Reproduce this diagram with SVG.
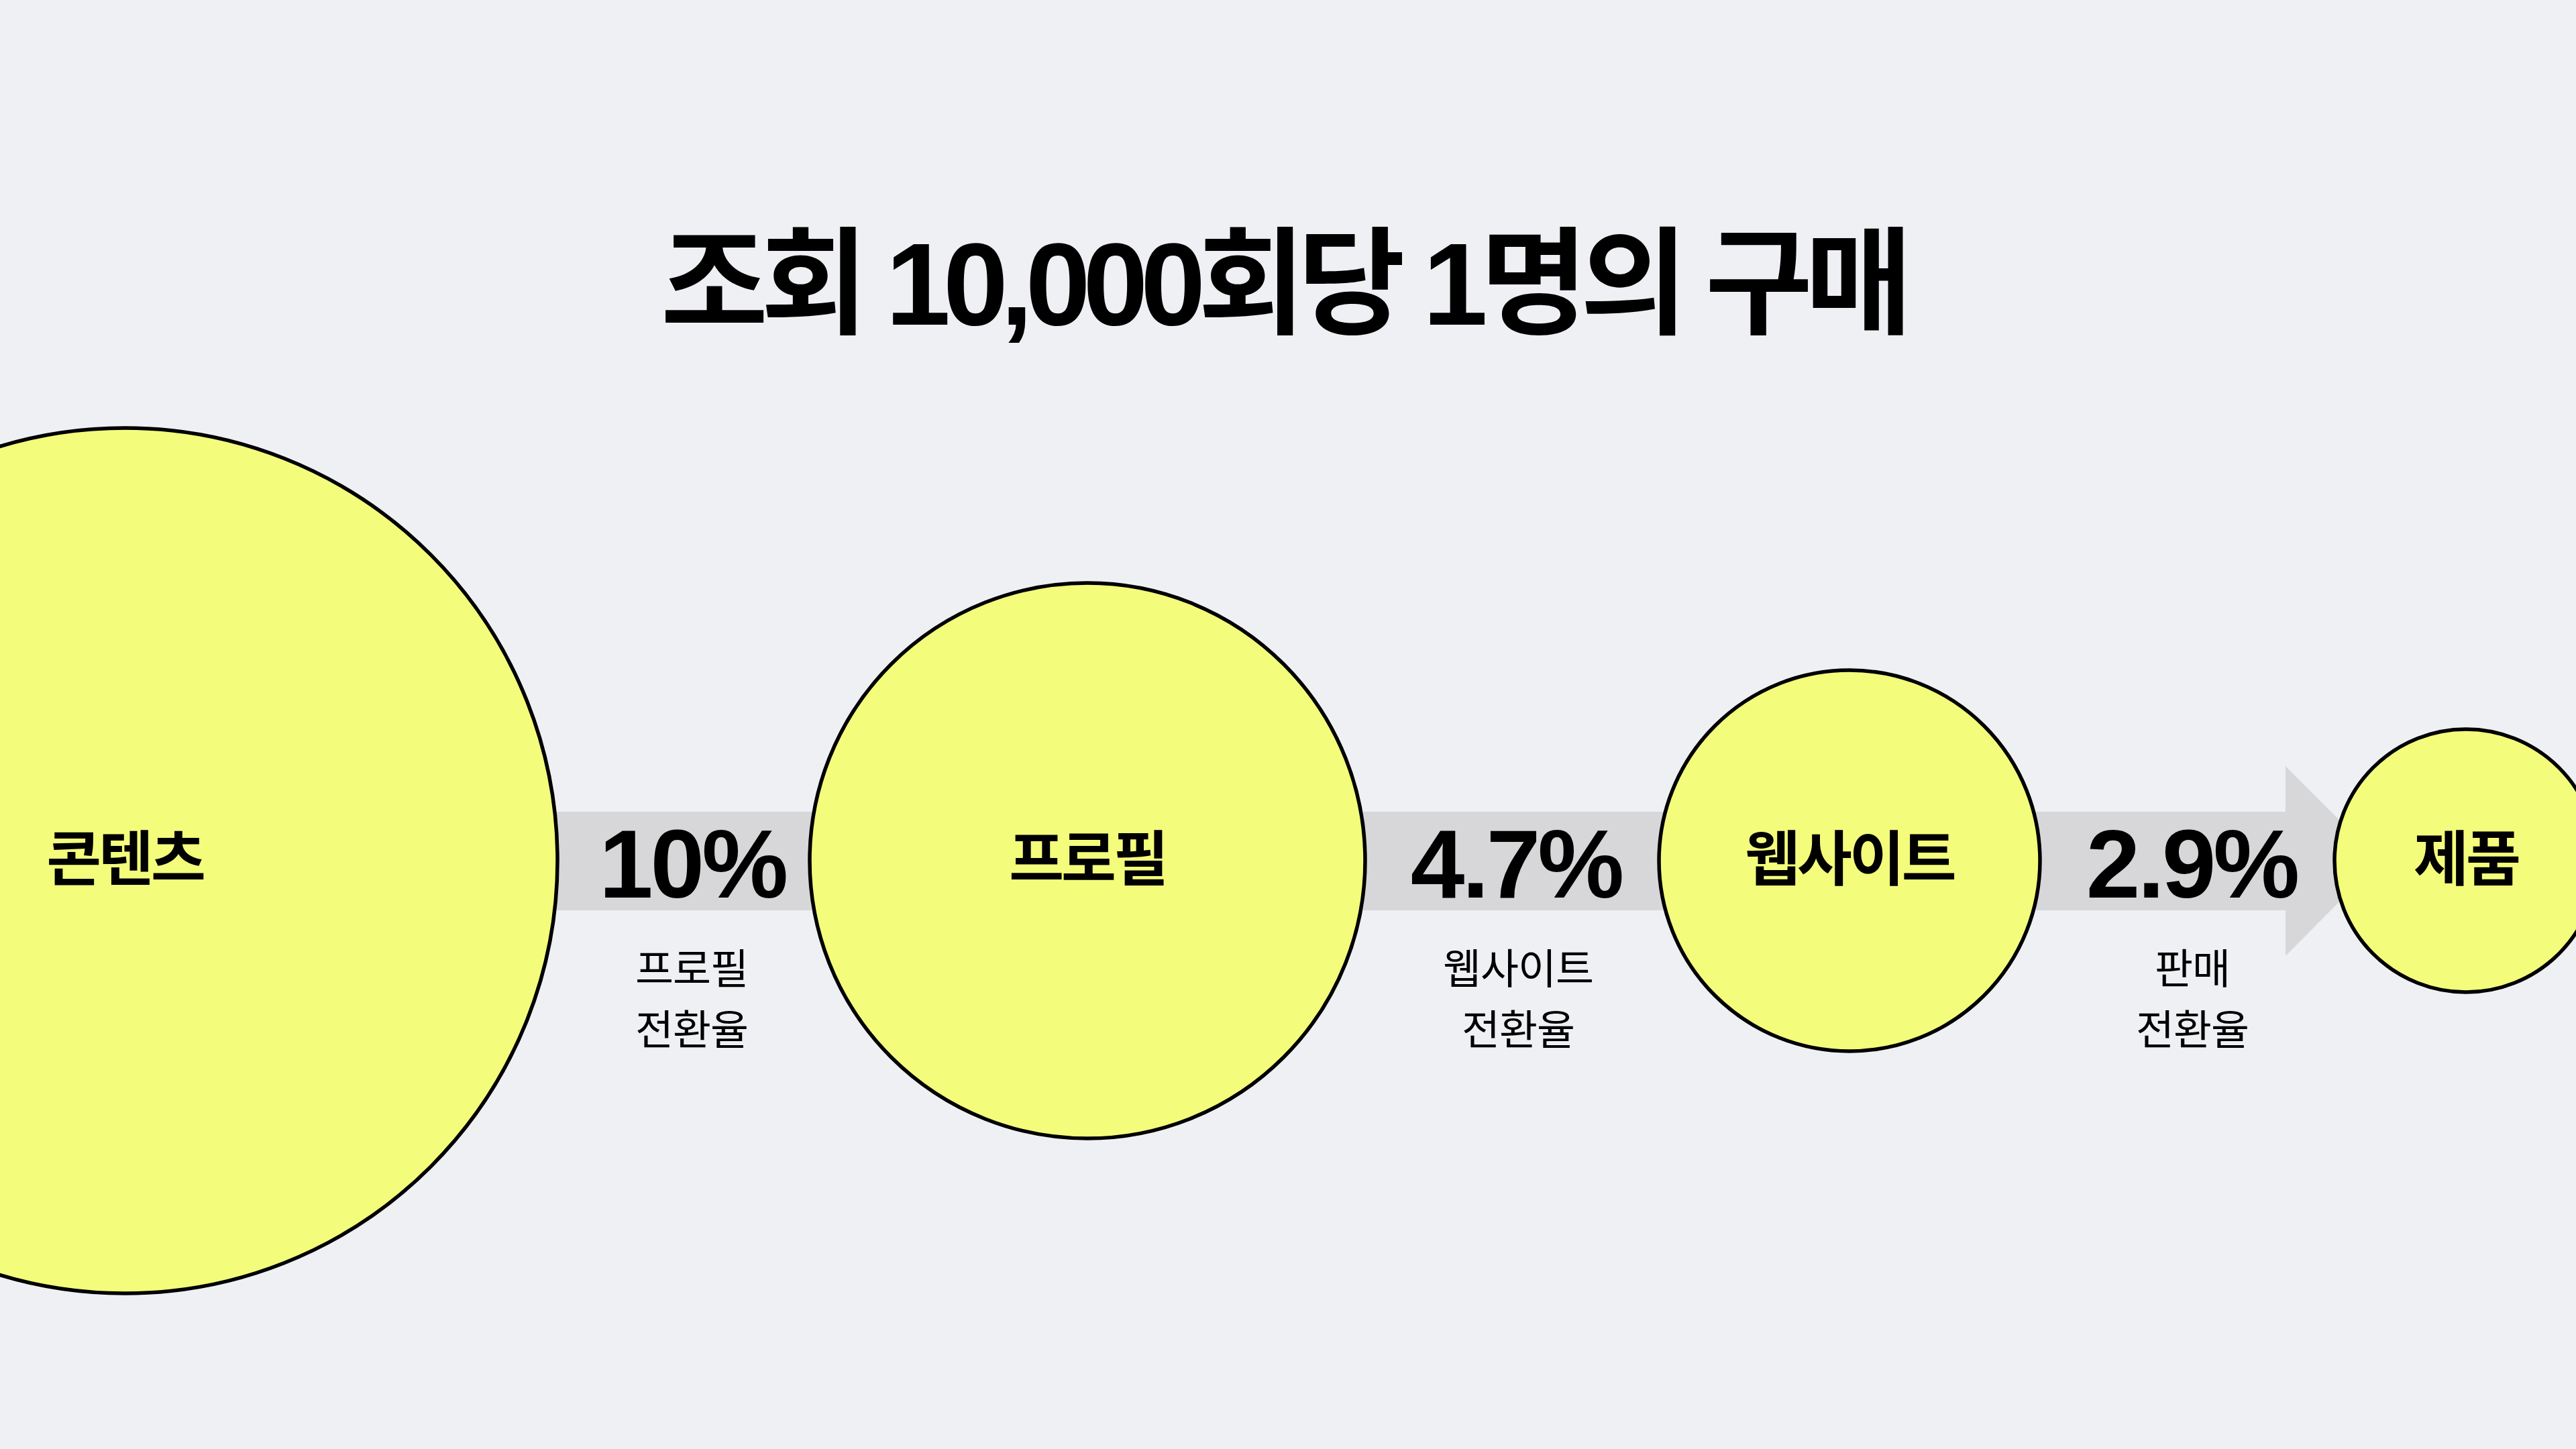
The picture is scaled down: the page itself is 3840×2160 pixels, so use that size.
<svg xmlns="http://www.w3.org/2000/svg" width="3840" height="2160" viewBox="0 0 3840 2160">
<style>
.bg{fill:#EFF0F4}
.node{fill:#F4FC7C;stroke:#000;stroke-width:5.5}
.band{fill:#D7D7DA}
.title{font-family:"Liberation Sans","Noto Sans CJK KR",sans-serif;font-weight:700;font-size:174px;fill:#000}
.lbl{font-family:"Noto Sans CJK KR",sans-serif;font-weight:700;font-size:89px;fill:#000;text-anchor:middle;letter-spacing:-4px}
.pct{font-family:"Liberation Sans","Noto Sans CJK KR",sans-serif;font-weight:700;font-size:145px;fill:#000;text-anchor:middle;letter-spacing:-4px}
.sub{font-family:"Noto Sans CJK KR",sans-serif;font-weight:400;font-size:62px;fill:#000;text-anchor:middle;letter-spacing:-1px}
</style>
<rect class="bg" x="0" y="0" width="3840" height="2160"/>
<text class="title" x="985" y="484" textLength="1866" lengthAdjust="spacing">조회 10,000회당 1명의 구매</text>
<g id="connectors">
<path class="band" d="M186 1210 H3407 V1142 L3548 1283 L3407 1425 V1357 H186 Z"/>
</g>
<g id="rate1">
<text class="pct" x="1032" y="1338">10%</text>
<text class="sub" x="1031" y="1467">프로필</text>
<text class="sub" x="1031" y="1558">전환율</text>
</g>
<g id="rate2">
<text class="pct" x="2260" y="1338">4.7%</text>
<text class="sub" x="2263" y="1467">웹사이트</text>
<text class="sub" x="2263" y="1558">전환율</text>
</g>
<g id="rate3">
<text class="pct" x="3267" y="1338">2.9%</text>
<text class="sub" x="3268" y="1467">판매</text>
<text class="sub" x="3268" y="1558">전환율</text>
</g>
<g id="node-content">
<circle class="node" cx="186" cy="1283" r="645"/>
<text class="lbl" x="186" y="1312">콘텐츠</text>
</g>
<g id="node-profile">
<circle class="node" cx="1621" cy="1283" r="414"/>
<text class="lbl" x="1621" y="1312">프로필</text>
</g>
<g id="node-website">
<circle class="node" cx="2757" cy="1283" r="284"/>
<text class="lbl" x="2757" y="1312">웹사이트</text>
</g>
<g id="node-product">
<circle class="node" cx="3676" cy="1283" r="196"/>
<text class="lbl" x="3676" y="1312">제품</text>
</g>
</svg>
